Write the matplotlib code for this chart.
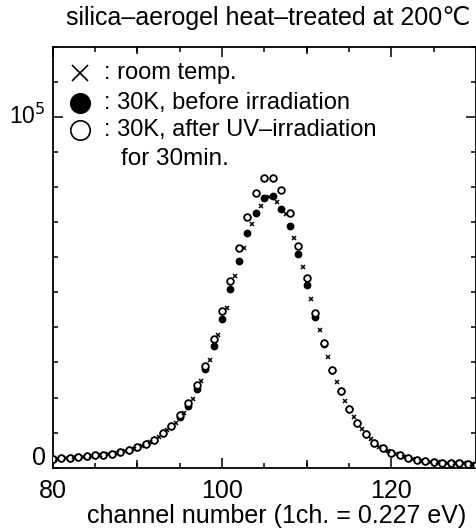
import matplotlib
matplotlib.use("Agg")
import matplotlib.pyplot as plt
from matplotlib.ticker import MultipleLocator, FixedLocator

plt.rcParams['font.family'] = ['Liberation Sans', 'DejaVu Sans']

# channel numbers
ch = list(range(80, 131))

# 30K, after UV-irradiation (open circles)
after_uv = [2560, 2760, 2850, 3050, 3250, 3530, 3700, 3990, 4390, 5040,
            5800, 6660, 7890, 9800, 11880, 15000, 18350, 23560, 29060, 36660,
            44640, 53270, 62510, 71510, 78350, 82450, 82450, 79030, 72470, 63130,
            53960, 44160, 35610, 27830, 21940, 16640, 12650, 9520, 7120, 5530,
            4270, 3530, 2850, 2280, 1820, 1540, 1420, 1340, 1250, 1140, 770]

# 30K, before irradiation (filled circles)
before = [2560, 2760, 2850, 3050, 3250, 3530, 3700, 3990, 4390, 5040,
          5800, 6660, 7890, 9800, 11880, 14530, 17580, 22340, 28030, 34670,
          42280, 50830, 58980, 66780, 72650, 76840, 77410, 73710, 68950, 60800,
          52050, 43020, 35300, 27700, 21900, 16600, 12600, 9500, 7100, 5500,
          4270, 3530, 2850, 2280, 1820, 1540, 1420, 1340, 1250, 1140, 770]

# room temperature (crosses), recorded half a channel off
room_ch = [80.55, 81.55, 82.55, 83.55, 84.55, 85.55, 86.55, 87.55, 88.55, 89.55,
           90.55, 91.55, 92.55, 93.55, 94.55, 95.55, 96.55, 97.55, 98.55, 99.55,
           100.55, 101.55, 102.55, 103.55, 104.55, 105.55, 106.55, 107.55, 108.55, 109.55,
           110.55, 111.55, 112.55, 113.55, 114.55, 115.55, 116.55, 117.55, 118.55, 119.55,
           120.55, 121.55, 122.55, 123.55, 124.55, 125.55, 126.55, 127.55, 128.55, 129.55]
room = [2600, 2800, 2950, 3150, 3400, 3600, 3850, 4200, 4700, 5400,
        6200, 7200, 8700, 10600, 12800, 15700, 19500, 24700, 30700, 37800,
        45400, 54700, 62500, 69300, 74600, 77200, 75800, 72300, 65400, 57200,
        48100, 39300, 31400, 24400, 19000, 14400, 10900, 8100, 6000, 4700,
        3800, 3100, 2500, 2000, 1700, 1500, 1400, 1300, 1200, 1100]

W, H = 477, 531
fig = plt.figure(figsize=(W / 100, H / 100), dpi=100)
ax = fig.add_axes([52.7 / W, 1 - 467.7 / H, (476 - 52.7) / W, (467.7 - 46.5) / H])

ax.plot(ch, before, 'o', ms=4.6, color='black', mec='black', zorder=2)
ax.plot(ch, after_uv, 'o', ms=4.8, mfc='white', mec='black', mew=1.3, zorder=3)
ax.plot(room_ch, room, 'x', ms=3.4, color='black', mew=1.1, zorder=4)

ax.set_xlim(80, 130)
ax.set_ylim(0, 1.2e5)

for s in ax.spines.values():
    s.set_linewidth(1.3)

ax.xaxis.set_major_locator(FixedLocator([80, 100, 120]))
ax.xaxis.set_minor_locator(MultipleLocator(5))
ax.yaxis.set_major_locator(FixedLocator([1e5]))
ax.yaxis.set_minor_locator(MultipleLocator(1e4))
ax.tick_params(which='both', direction='in', top=True, right=True, width=1.1)
ax.tick_params(which='major', length=7)
ax.tick_params(which='minor', length=3.5)
ax.tick_params(axis='x', which='major', labelsize=18, pad=8)
ax.set_yticklabels([])

# medium ticks at 90 and 110
for side in ('bottom', 'top'):
    sec = ax.secondary_xaxis(side)
    sec.set_xticks([90, 110])
    sec.tick_params(direction='in', length=5.5, width=1.1,
                    labelbottom=False, labeltop=False)
    sec.spines[side].set_visible(False)

ax.text(-0.018, 1e5, '10$^5$', transform=ax.get_yaxis_transform(),
        ha='right', va='center', fontsize=16.5)
ax.text(-0.016, 2800, '0', transform=ax.get_yaxis_transform(),
        ha='right', va='center', fontsize=18)

fig.text(276.5 / W, 1 - 516 / H, 'channel number (1ch. = 0.227 eV)',
         ha='center', va='center', fontsize=18)

fig.text(268 / W, 1 - 18 / H, 'silica\u2013aerogel heat\u2013treated at 200\u2103',
         ha='center', va='center', fontsize=18)

# legend
keys = [('x', 'black', 'black', 73), ('o', 'black', 'black', 103), ('o', 'white', 'black', 130)]
labels = [': room temp.', ': 30K, before irradiation', ': 30K, after UV\u2013irradiation']
for (m, fc, ec, y), lab in zip(keys, labels):
    if m == 'x':
        fig.lines.append(plt.Line2D([80 / W], [1 - y / H], marker='x', ms=11, mew=1.2,
                                    color='black', transform=fig.transFigure))
    else:
        fig.lines.append(plt.Line2D([80 / W], [1 - y / H], marker='o', ms=14, mew=1.2,
                                    mfc=fc, mec=ec, ls='none', transform=fig.transFigure))
    fig.text(104 / W, 1 - y / H, lab, ha='left', va='center', fontsize=17)
fig.text(121 / W, 1 - 159 / H, 'for 30min.', ha='left', va='center', fontsize=17.5)

fig.savefig('out.png', dpi=100)
